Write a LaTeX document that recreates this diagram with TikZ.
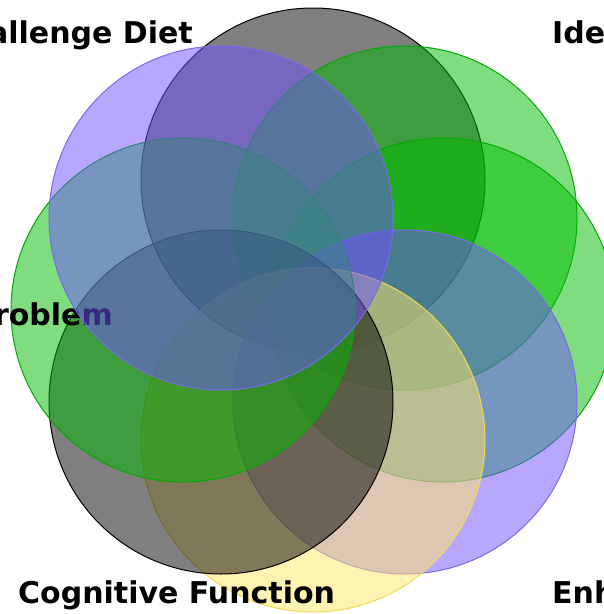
\documentclass[tikz,border=0pt]{standalone}
\usepackage{fontspec}
\newfontfamily\lblfont{DejaVu Sans}
\usepackage{tikz}
\usetikzlibrary{positioning}
\definecolor{setpurple}{HTML}{7050FF}
\definecolor{setgreen}{HTML}{00BB00}
\definecolor{setyellow}{HTML}{FFE766}
\definecolor{edgepurple}{HTML}{7B68EE}
\definecolor{edgegreen}{HTML}{00AA00}
\definecolor{edgeyellow}{HTML}{F2DA55}

\begin{document}
\begin{tikzpicture}[
  x=1pt, y=-1pt,
  set/.style={circle, line width=1pt, fill opacity=0.5,
              minimum size=344pt, inner sep=0pt},
  grayset/.style={set, draw=black, fill=black},
  purpleset/.style={set, draw=edgepurple, fill=setpurple},
  greenset/.style={set, draw=edgegreen, fill=setgreen},
  yellowset/.style={set, draw=edgeyellow, fill=setyellow},
  lbl/.style={font=\lblfont\bfseries\fontsize{30}{30}\selectfont, inner sep=0pt},
]
\useasboundingbox (0,0) rectangle (604,614);
% sets, clockwise from the top
\node[grayset] (ctop) at (313,180) {};
\node[greenset] (ctr) at (405,218) {};
\node[greenset] (cright) at (443,310) {};
\node[purpleset] (cbr) at (405,402) {};
\node[yellowset] (cbottom) at (313,440) {};
\node[grayset] (cbl) at (221,402) {};
\node[greenset] (cleft) at (183,310) {};
% set labels
\node[lbl, anchor=base east] (diet) at (193,43) {allenge Diet};
\node[lbl, anchor=base west] (ide) at (552,43) {Ide};
\node[lbl, anchor=base east] (problem) at (113,325) {roblem};
\node[lbl, anchor=base west] (cognitive) at (18,603) {Cognitive Function};
\node[lbl, anchor=base west] (enh) at (552,603) {Enh};
% last set goes over the labels
\node[purpleset] (ctl) at (221,218) {};
\end{tikzpicture}
\end{document}
